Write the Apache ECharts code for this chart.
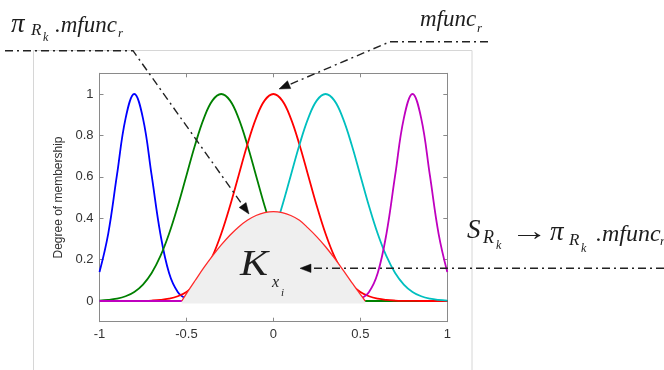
<!DOCTYPE html>
<html>
<head>
<meta charset="utf-8">
<script src="https://cdn.jsdelivr.net/npm/echarts@6/dist/echarts.min.js"></script>
<style>
html,body{margin:0;padding:0;background:#fff;}
#chart{width:664px;height:370px;}
</style>
</head>
<body>
<div id="chart"></div>
<script>
// ---- data ----
const xs = [-1,-0.95,-0.9,-0.85,-0.8,-0.75,-0.7,-0.65,-0.6,-0.55,-0.5,-0.45,-0.4,-0.35,-0.3,-0.25,-0.2,-0.15,-0.1,-0.05,0,
            0.05,0.1,0.15,0.2,0.25,0.3,0.35,0.4,0.45,0.5,0.55,0.6,0.65,0.7,0.75,0.8,0.85,0.9,0.95,1];
const blueY = [0.14,0.3247,0.6065,0.8825,1,0.8825,0.6065,0.3247,0.1353,0.0439,0.0111,0.0022,0.0003,
               0,0,0,0,0,0,0,0,0,0,0,0,0,0,0,0,0,0,0,0,0,0,0,0,0,0,0,0];
const greenY = [0.0022,0.0051,0.0111,0.0228,0.0439,0.0796,0.1353,0.2163,0.3247,0.4578,0.6065,0.7548,0.8825,0.9692,1,
                0.9692,0.8825,0.7548,0.6065,0.4578,0.3247,0.2163,0.1353,0.0796,0.0439,0.0228,0.0111,0.0051,0.0022,0.0009,0.0003,
                0,0,0,0,0,0,0,0,0,0];
const redY = [0,0,0,0.0001,0.0003,0.0009,0.0022,0.0051,0.0111,0.0228,0.0439,0.0796,0.1353,0.2163,0.3247,0.4578,0.6065,0.7548,0.8825,0.9692,1,
              0.9692,0.8825,0.7548,0.6065,0.4578,0.3247,0.2163,0.1353,0.0796,0.0439,0.0228,0.0111,0.0051,0.0022,0.0009,0.0003,0.0001,0,0,0];
const cyanY = [0,0,0,0,0,0,0,0,0,0,
               0.0003,0.0009,0.0022,0.0051,0.0111,0.0228,0.0439,0.0796,0.1353,0.2163,0.3247,0.4578,0.6065,0.7548,0.8825,0.9692,1,
               0.9692,0.8825,0.7548,0.6065,0.4578,0.3247,0.2163,0.1353,0.0796,0.0439,0.0228,0.0111,0.0051,0.0022];
const magentaY = [0,0,0,0,0,0,0,0,0,0,0,0,0,0,0,0,0,0,0,0,0,0,0,0,0,0,0,0,
                  0.0003,0.0022,0.0111,0.0439,0.1353,0.3247,0.6065,0.8825,1,0.8825,0.6065,0.3247,0.14];
// aggregated envelope K_xi (shaded region)
const envX = [-0.527,-0.5,-0.45,-0.4,-0.35,-0.3,-0.25,-0.2,-0.15,-0.1,-0.05,0,0.05,0.1,0.15,0.2,0.25,0.3,0.35,0.4,0.45,0.5,0.528];
const envY = [0,0.036,0.099,0.161,0.218,0.271,0.318,0.358,0.39,0.413,0.427,0.432,0.427,0.413,0.39,0.352,0.31,0.262,0.208,0.15,0.09,0.032,0];
const xTicks = [-1,-0.5,0,0.5,1];
const yTicks = [0,0.2,0.4,0.6,0.8,1];
const yName = 'Degree of membership';

// ---- build ----
const pairs = (xv, yv) => xv.map((x, i) => [x, yv[i]]);
const curve = (name, yv, color) => ({
  name, type: 'line', data: pairs(xs, yv), smooth: 0.4, showSymbol: false, symbol: 'none',
  lineStyle: { color, width: 1.8 }, itemStyle: { color }, silent: true, z: 2
});

const chart = echarts.init(document.getElementById('chart'));
const axisGray = '#8a8a8a';
const serif = '"Liberation Serif","DejaVu Serif",serif';
const ink = '#1e1e1e';

function dashArrow(pts, tip) {
  const all = pts.concat([tip]);
  const p = all[all.length - 2];
  const dx = tip[0] - p[0], dy = tip[1] - p[1];
  const L = Math.hypot(dx, dy), ux = dx / L, uy = dy / L;
  const len = 11, hw = 4.2;
  const bx = tip[0] - ux * len, by = tip[1] - uy * len;
  const lineEnd = [tip[0] - ux * (len - 2), tip[1] - uy * (len - 2)];
  const linePts = all.slice(0, -1).concat([lineEnd]);
  return [
    { type: 'polyline', z: 100, silent: true,
      shape: { points: linePts },
      style: { stroke: '#222', lineWidth: 1.4, lineDash: [8, 4, 2, 4], fill: null } },
    { type: 'polygon', z: 100, silent: true,
      shape: { points: [tip, [bx - uy * hw, by + ux * hw], [bx + uy * hw, by - ux * hw]] },
      style: { fill: '#111', stroke: '#111', lineWidth: 0.5 } }
  ];
}
function txt(text, x, y, size, italic, sx) {
  return { type: 'text', z: 101, silent: true, x, y, scaleX: sx || 1,
    style: { text, fill: ink, fontSize: size, fontFamily: serif, fontStyle: italic === false ? 'normal' : 'italic',
             align: 'left', verticalAlign: 'middle' } };
}

const graphics = [
  { type: 'rect', z: 0, silent: true, shape: { x: 33.5, y: 50.5, width: 438.5, height: 340 },
    style: { fill: null, stroke: '#d6d6d6', lineWidth: 1 } },
  ...dashArrow([[5, 50.7], [133, 50.7]], [249, 214]),
  ...dashArrow([[488, 41.7], [390, 41.7]], [279, 89]),
  ...dashArrow([[664, 268.3]], [300, 268.3]),
  // top-left label
  txt('π', 11, 25, 27), txt('R', 31, 31, 17), txt('k', 43, 37.5, 12),
  txt('.mfunc', 55, 26, 23), txt('r', 118, 34, 13),
  // top-right label
  txt('mfunc', 420, 19.6, 23), txt('r', 477, 28.5, 13),
  // right label
  txt('S', 467, 231, 27), txt('R', 483, 238.5, 18), txt('k', 496, 246, 12),
  txt('→', 510, 233, 27, false, 1.4),
  txt('π', 550, 233, 27), txt('R', 569, 241, 17), txt('k', 581, 249, 12),
  txt('.mfunc', 596, 234.2, 24), txt('r', 660, 242, 13),
  // K_xi
  txt('K', 240, 266, 35, true, 1.2), txt('x', 272, 283, 16), txt('i', 281, 293, 11)
];

const yAxisBase = {
  type: 'value', min: -0.1, max: 1.1,
  axisLine: { show: true, onZero: false, lineStyle: { color: axisGray, width: 1 } },
  axisTick: { show: true, inside: true, length: 4, customValues: yTicks, lineStyle: { color: axisGray } },
  splitLine: { show: false }
};
const xAxisBase = {
  type: 'value', min: xTicks[0], max: xTicks[xTicks.length - 1], interval: 0.5,
  axisLine: { show: true, onZero: false, lineStyle: { color: axisGray, width: 1 } },
  axisTick: { show: true, inside: true, length: 4, lineStyle: { color: axisGray } },
  splitLine: { show: false }
};

chart.setOption({
  animation: false,
  backgroundColor: '#ffffff',
  grid: { left: 99.5, right: 216.7, top: 73.3, bottom: 48.3, containLabel: false },
  xAxis: [
    Object.assign({}, xAxisBase, { position: 'bottom',
      axisLabel: { color: '#333', fontSize: 13, fontFamily: '"Liberation Sans",Arial,sans-serif', margin: 6 } }),
    Object.assign({}, xAxisBase, { position: 'top', axisLabel: { show: false } })
  ],
  yAxis: [
    Object.assign({}, yAxisBase, { position: 'left',
      name: yName, nameLocation: 'middle', nameRotate: 90, nameGap: 25,
      nameTextStyle: { color: '#333', fontSize: 12, fontFamily: '"Liberation Sans",Arial,sans-serif' },
      axisLabel: { color: '#333', fontSize: 13, fontFamily: '"Liberation Sans",Arial,sans-serif', margin: 6, customValues: yTicks } }),
    Object.assign({}, yAxisBase, { position: 'right', axisLabel: { show: false } })
  ],
  series: [
    curve('mf1', blueY, '#0000ff'),
    curve('mf2', greenY, '#008000'),
    curve('mf3', redY, '#ff0000'),
    curve('mf4', cyanY, '#00bfbf'),
    curve('mf5', magentaY, '#bf00bf'),
    { name: 'K', type: 'line', data: pairs(envX, envY), smooth: 0.35, showSymbol: false, symbol: 'none', silent: true, z: 3,
      lineStyle: { color: '#ff2a2a', width: 1.3 },
      areaStyle: { color: '#efefef', opacity: 1, origin: -0.012 } }
  ],
  graphic: graphics
});
</script>
</body>
</html>
